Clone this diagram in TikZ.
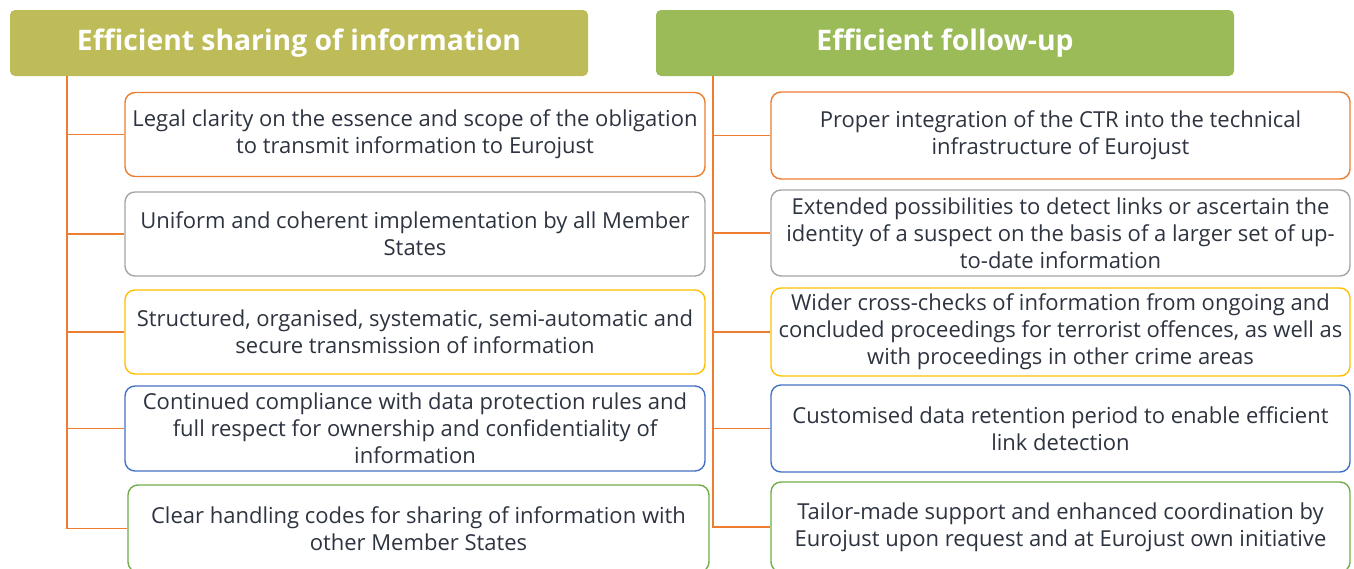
\documentclass[tikz,border=0pt]{standalone}
\usepackage{fontspec}
\setmainfont{Open Sans}
\begin{document}
\definecolor{olivehead}{RGB}{189,188,88}
\definecolor{greenhead}{RGB}{155,187,89}
\definecolor{linkorange}{RGB}{237,125,49}
\definecolor{boxgray}{RGB}{165,165,165}
\definecolor{boxgold}{RGB}{255,192,0}
\definecolor{boxblue}{RGB}{68,114,196}
\definecolor{boxgreen}{RGB}{112,173,71}
\definecolor{bodytext}{RGB}{45,52,64}
\begin{tikzpicture}[x=1pt,y=-1pt,
  header/.style={rounded corners=5pt, minimum width=578pt, minimum height=66pt,
    inner sep=0pt, text=white, font=\fontsize{28.3}{33}\selectfont\bfseries},
  item/.style={draw=#1, line width=1.4pt, rounded corners=10pt, fill=white,
    inner sep=0pt, align=center, text=bodytext,
    font=\fontsize{22}{27}\selectfont},
  link/.style={draw=linkorange, line width=1.8pt}]
\useasboundingbox (0,0) rectangle (1354,568);

% column headers
\node[header, fill=olivehead] (h1) at (299,43) {Efficient sharing of information};
\node[header, fill=greenhead] (h2) at (945,43) {Efficient follow-up};

% trunk origins below the headers
\coordinate (t1) at (67,76);
\coordinate (t2) at (713,76);

% left column
\node[item=linkorange, minimum width=580pt, minimum height=84pt] (l1) at (415,134.5)
  {Legal clarity on the essence and scope of the obligation\\to transmit information to Eurojust};
\node[item=boxgray, minimum width=580pt, minimum height=84pt] (l2) at (415,234)
  {Uniform and coherent implementation by all Member\\States};
\node[item=boxgold, minimum width=580pt, minimum height=84pt] (l3) at (415,332)
  {Structured, organised, systematic, semi-automatic and\\secure transmission of information};
\node[item=boxblue, minimum width=580pt, minimum height=85pt] (l4) at (415,428.5)
  {Continued compliance with data protection rules and\\full respect for ownership and confidentiality of\\information};
\node[item=boxgreen, minimum width=581pt, minimum height=87pt] (l5) at (418.5,528.5)
  {Clear handling codes for sharing of information with\\other Member States};

% right column
\node[item=linkorange, minimum width=579pt, minimum height=87pt] (r1) at (1060.5,135.5)
  {Proper integration of the CTR into the technical\\infrastructure of Eurojust};
\node[item=boxgray, minimum width=579pt, minimum height=86pt] (r2) at (1060.5,233)
  {Extended possibilities to detect links or ascertain the\\identity of a suspect on the basis of a larger set of up-\\to-date information};
\node[item=boxgold, minimum width=579pt, minimum height=88pt] (r3) at (1060.5,332)
  {Wider cross-checks of information from ongoing and\\concluded proceedings for terrorist offences, as well as\\with proceedings in other crime areas};
\node[item=boxblue, minimum width=579pt, minimum height=87pt] (r4) at (1060.5,428.5)
  {Customised data retention period to enable efficient\\link detection};
\node[item=boxgreen, minimum width=579pt, minimum height=90pt] (r5) at (1060.5,527)
  {Tailor-made support and enhanced coordination by\\Eurojust upon request and at Eurojust own initiative};

% connectors
\foreach \b in {l1,l2,l3,l4,l5} \draw[link] (t1) |- (\b.west);
\foreach \b in {r1,r2,r3,r4,r5} \draw[link] (t2) |- (\b.west);
\end{tikzpicture}
\end{document}
